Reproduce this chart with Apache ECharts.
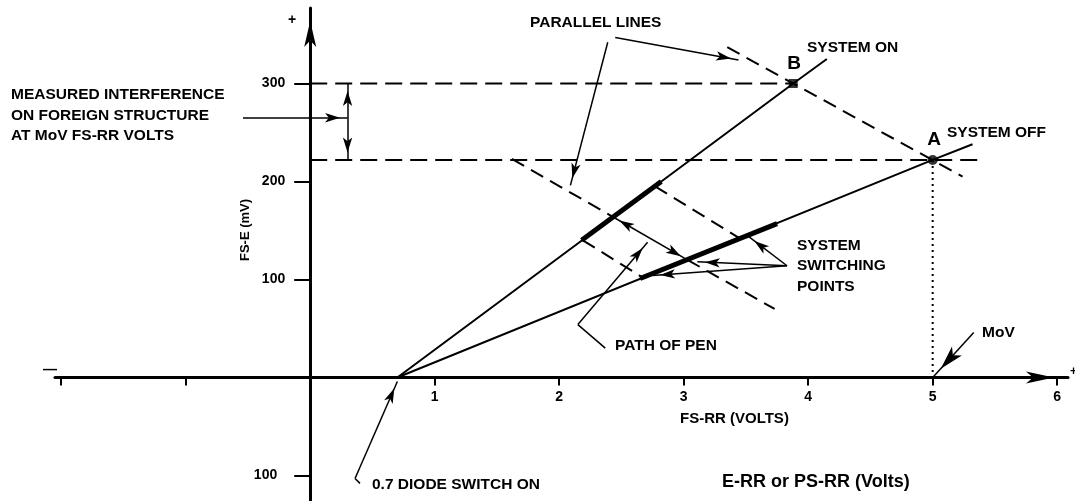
<!DOCTYPE html>
<html>
<head>
<meta charset="utf-8">
<script src="https://cdn.jsdelivr.net/npm/echarts@6.0.0/dist/echarts.min.js"></script>
<style>
  html, body { margin: 0; padding: 0; background: #fff; }
  #chart { width: 1075px; height: 501px; }
</style>
</head>
<body>
<div id="chart"></div>
<script>
// axis ticks (FS-RR volts / FS-E mV)
const xTickValues = [-2, -1, 1, 2, 3, 4, 5, 6];
const xLabelValues = [1, 2, 3, 4, 5, 6];
const yTickValues = [-100, 100, 200, 300];

// characteristic lines
const systemOnLine = [[0.7, 0], [3.88, 300], [4.15, 325]];
const systemOffLine = [[0.7, 0], [5.0, 222], [5.32, 238]];
const penOnSegment = [[2.18, 140], [2.82, 200]];
const penOffSegment = [[2.65, 101], [3.75, 157]];
const pointB = [3.88, 300];
const pointA = [5.0, 222];

// dashed construction lines
const levelB = [[0, 300], [3.88, 300]];
const levelA = [[0, 222], [5.39, 222]];
const parallelAB = [[3.35, 337], [5.24, 205]];
const parallelMidUpper = [[1.62, 223], [2.43, 164]];
const parallelMidLower = [[3.03, 120], [3.73, 70]];
const parallelLow = [[2.19, 140], [2.67, 102]];
const parallelHigh = [[2.77, 195], [3.45, 142]];
const movDrop = [[5.0, 222], [5.0, 0]];

// pointers
const penSwitch = [[2.43, 164], [3.03, 120]];
const interferenceSpan = [[0.30, 300], [0.30, 222]];
const interferencePointer = [[-0.54, 265], [0.30, 265]];
const parallelPointerA = [[2.45, 347], [3.44, 324]];
const parallelPointerB = [[2.39, 342], [2.09, 196]];
const penPointerHook = [[2.37, 30], [2.15, 54]];
const penPointer = [[2.15, 54], [2.71, 138]];
const switchPointers = [
  [[3.83, 114], [3.52, 144]],
  [[3.83, 114], [3.11, 118]],
  [[3.83, 114], [2.75, 104]]
];
const movPointer = [[5.33, 46], [5.0, 0]];
const diodeHook = [[0.40, -108], [0.36, -103]];
const diodePointer = [[0.36, -103], [0.70, -4]];

const FONT = '"Liberation Sans", Arial, sans-serif';
const INK = '#000';

const chart = echarts.init(document.getElementById('chart'));

// 普通线段
const seg = (data, width, type) => ({
  type: 'line',
  data,
  symbol: 'none',
  silent: true,
  animation: false,
  lineStyle: { color: INK, width, type: type || 'solid', cap: 'butt' }
});

// 箭头
const arrow = (pts, size, both) => {
  const head = { symbol: 'arrow', symbolSize: size, symbolOffset: [0, size[1] / 2] };
  return [
    Object.assign({ coord: pts[0] }, both ? head : { symbol: 'none' }),
    Object.assign({ coord: pts[1] }, head)
  ];
};

const small = [7, 15];
const arrowData = [
  arrow(penSwitch, small, true),
  arrow(interferenceSpan, small, true),
  arrow(interferencePointer, small),
  arrow(parallelPointerA, small),
  arrow(parallelPointerB, small),
  arrow(penPointer, small),
  ...switchPointers.map(p => arrow(p, small)),
  arrow(movPointer, [10, 24]),
  arrow(diodePointer, small)
];

const dash = [17, 8];
const dashDiag = [14, 8];

const texts = [
  { t: '+', x: 292, y: 20, size: 14, align: 'center' },
  { t: '\u2014', x: 50, y: 370, size: 14, align: 'center' },
  { t: '+', x: 1070, y: 372, size: 12 },
  { t: 'MEASURED INTERFERENCE\nON FOREIGN STRUCTURE\nAT MoV FS-RR VOLTS', x: 11, y: 115.5, size: 15.5 },
  { t: 'PARALLEL LINES', x: 530, y: 23, size: 15.5 },
  { t: 'SYSTEM ON', x: 807, y: 48, size: 15.5 },
  { t: 'B', x: 794, y: 64, size: 19, align: 'center' },
  { t: 'A', x: 934, y: 140, size: 19, align: 'center' },
  { t: 'SYSTEM OFF', x: 947, y: 133, size: 15.5 },
  { t: 'SYSTEM\nSWITCHING\nPOINTS', x: 797, y: 266, size: 15.5 },
  { t: 'PATH OF PEN', x: 615, y: 346, size: 15.5 },
  { t: 'MoV', x: 982, y: 333, size: 15.5 },
  { t: 'FS-RR (VOLTS)', x: 680, y: 419, size: 15 },
  { t: '0.7 DIODE SWITCH ON', x: 372, y: 485, size: 15.5 },
  { t: 'E-RR or PS-RR (Volts)', x: 722, y: 482, size: 18 }
];

const graphic = texts.map(d => ({
  type: 'text',
  x: d.x,
  y: d.y,
  silent: true,
  style: {
    text: d.t,
    font: 'bold ' + d.size + 'px ' + FONT,
    fill: INK,
    align: d.align || 'left',
    verticalAlign: 'middle',
    lineHeight: 20.5
  }
}));
graphic.push({
  type: 'text',
  x: 245,
  y: 230,
  rotation: Math.PI / 2,
  silent: true,
  style: {
    text: 'FS-E (mV)',
    font: 'bold 13px ' + FONT,
    fill: INK,
    align: 'center',
    verticalAlign: 'middle'
  }
});

const option = {
  animation: false,
  backgroundColor: '#fff',
  grid: { left: 55, right: 7, top: 8, bottom: 0, outerBoundsMode: 'none', containLabel: false },
  xAxis: {
    type: 'value',
    min: -2.05,
    max: 6.087,
    position: 'bottom',
    offset: -123.5,
    axisLine: {
      onZero: false,
      symbol: ['none', 'arrow'],
      symbolSize: [9, 28],
      symbolOffset: [0, -14],
      lineStyle: { color: INK, width: 3 }
    },
    axisTick: { show: true, customValues: xTickValues, length: 8, lineStyle: { color: INK, width: 2 } },
    axisLabel: {
      customValues: xLabelValues,
      margin: 13,
      color: INK,
      fontFamily: FONT,
      fontWeight: 'bold',
      fontSize: 14
    },
    splitLine: { show: false }
  },
  yAxis: {
    type: 'value',
    min: -126,
    max: 377,
    position: 'left',
    offset: -255.2,
    axisLine: {
      onZero: false,
      symbol: ['none', 'arrow'],
      symbolSize: [9, 26],
      symbolOffset: [0, -13],
      lineStyle: { color: INK, width: 3 }
    },
    axisTick: { show: true, customValues: yTickValues, length: 16, lineStyle: { color: INK, width: 2 } },
    axisLabel: {
      customValues: yTickValues,
      margin: 25,
      color: INK,
      fontFamily: FONT,
      fontWeight: 'bold',
      fontSize: 14,
      formatter: v => (v < 0 ? '{neg|' + Math.abs(v) + '}' : String(v)),
      rich: {
        neg: { padding: [0, 8, 0, 0], color: INK, fontFamily: FONT, fontWeight: 'bold', fontSize: 14 }
      }
    },
    splitLine: { show: false }
  },
  graphic,
  series: [
    seg(levelB, 2, dash),
    seg(levelA, 2, dash),
    seg(parallelAB, 2, dashDiag),
    seg(parallelMidUpper, 2, dashDiag),
    seg(parallelMidLower, 2, dashDiag),
    seg(parallelLow, 2, dashDiag),
    seg(parallelHigh, 2, dashDiag),
    seg(movDrop, 2, [2, 4]),
    seg(penPointerHook, 1.5),
    seg(diodeHook, 1.5),
    Object.assign(seg(systemOnLine, 2), {
      markLine: {
        silent: true,
        animation: false,
        label: { show: false },
        emphasis: { disabled: true },
        lineStyle: { color: INK, width: 1.5, type: 'solid' },
        data: arrowData
      }
    }),
    seg(systemOffLine, 2),
    seg(penOnSegment, 5),
    seg(penOffSegment, 5),
    {
      type: 'scatter',
      silent: true,
      animation: false,
      data: [
        { value: pointB, symbol: 'rect', symbolSize: 9 },
        { value: pointA, symbol: 'circle', symbolSize: 10 }
      ],
      itemStyle: { color: INK }
    }
  ]
};

chart.setOption(option);
</script>
</body>
</html>
